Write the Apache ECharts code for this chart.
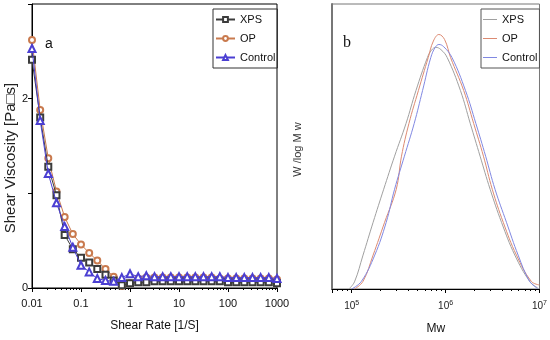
<!DOCTYPE html>
<html>
<head>
<meta charset="utf-8">
<script src="https://cdn.jsdelivr.net/npm/echarts@6/dist/echarts.min.js"></script>
<style>html,body{margin:0;padding:0;background:#fff;}#c{width:550px;height:340px;}</style>
</head>
<body>
<div id="c"></div>
<script>
// ---- Panel a: shear viscosity vs shear rate ----
const shearRate = [0.01,0.0147,0.0215,0.0316,0.0464,0.0681,0.1,0.147,0.215,0.316,0.464,0.681,1,1.47,2.15,3.16,4.64,6.81,10,14.7,21.5,31.6,46.4,68.1,100,147,215,316,464,681,1000];
const viscXPS     = [2.41,1.80,1.28,0.98,0.56,0.41,0.32,0.27,0.20,0.14,0.08,0.03,0.05,0.06,0.06,0.07,0.07,0.07,0.07,0.07,0.07,0.07,0.07,0.07,0.06,0.06,0.06,0.06,0.06,0.06,0.05];
const viscOP      = [2.62,1.88,1.37,1.02,0.75,0.57,0.46,0.37,0.29,0.20,0.12,0.02,0.05,0.10,0.11,0.11,0.11,0.11,0.11,0.11,0.11,0.11,0.11,0.10,0.10,0.10,0.10,0.10,0.10,0.10,0.09];
const viscControl = [2.53,1.77,1.21,0.90,0.65,0.43,0.24,0.17,0.10,0.08,0.07,0.11,0.15,0.12,0.13,0.12,0.12,0.12,0.12,0.12,0.12,0.12,0.12,0.12,0.11,0.11,0.11,0.11,0.11,0.11,0.10];
const viscTicks = [0, 2];

// ---- Panel b: molecular weight distribution ----
const mwXPS = [9.33e4,1.07e5,1.32e5,1.69e5,2.19e5,2.86e5,3.79e5,4.83e5,6.40e5,7.08e5,7.85e5,8.91e5,1.04e6,1.44e6,1.83e6,2.33e6,2.98e6,3.94e6,5.46e6,7.85e6,9.55e6];
const wXPS  = [0,0.025,0.119,0.234,0.350,0.466,0.581,0.696,0.812,0.838,0.848,0.840,0.812,0.696,0.581,0.466,0.350,0.234,0.119,0.027,0.004];
const mwOP  = [1.07e5,1.32e5,1.69e5,2.24e5,2.98e5,3.39e5,4.07e5,5.13e5,6.53e5,7.41e5,8.49e5,9.77e5,1.13e6,1.56e6,1.99e6,2.53e6,3.14e6,4.11e6,5.68e6,8.17e6,1e7];
const wOP   = [0,0.027,0.119,0.234,0.350,0.466,0.581,0.696,0.812,0.870,0.893,0.875,0.812,0.696,0.581,0.466,0.350,0.234,0.119,0.027,0.014];
const mwControl = [1.00e5,1.27e5,1.76e5,2.33e5,2.86e5,3.64e5,4.63e5,5.68e5,6.95e5,7.76e5,8.49e5,9.55e5,1.17e6,1.63e6,2.10e6,2.67e6,3.36e6,4.45e6,5.92e6,7.85e6,9.55e6];
const wControl  = [0,0.027,0.119,0.234,0.350,0.466,0.581,0.696,0.812,0.848,0.858,0.850,0.812,0.696,0.581,0.466,0.350,0.234,0.119,0.027,0.002];

const names = ['XPS','OP','Control'];

const SANS = "'Liberation Sans',Arial,sans-serif";
const pair = (xs, ys) => xs.map((x, i) => [x, ys[i]]);

const colA = {XPS:'#3c3c3c', OP:'#c97a4e', Control:'#4b3fd2'};
const colB = {XPS:'#a0a0a0', OP:'#dc8a72', Control:'#8088e2'};

const chart = echarts.init(document.getElementById('c'), null, {renderer:'canvas'});
const option = {
  animation: false,
  backgroundColor: '#fff',
  grid: [
    {left: 32, top: 4, width: 245, height: 284, show: true, borderColor: '#000', borderWidth: 1, backgroundColor: 'transparent'},
    {left: 332, top: 4, width: 209, height: 289, show: true, borderColor: '#777', borderWidth: 1, backgroundColor: 'transparent'}
  ],
  xAxis: [
    {type: 'log', gridIndex: 0, min: 0.01, max: 1000, logBase: 10,
     axisLine: {show: true, lineStyle: {color: '#000', width: 1}},
     axisTick: {show: true, length: 4, lineStyle: {color: '#000'}},
     minorTick: {show: true, splitNumber: 9, length: 2, lineStyle: {color: '#000'}},
     splitLine: {show: false},
     axisLabel: {fontFamily: SANS, fontSize: 11, color: '#111', margin: 10,
       formatter: v => String(+Number(v).toPrecision(6))},
     name: 'Shear Rate [1/S]', nameLocation: 'middle', nameGap: 32,
     nameTextStyle: {fontFamily: SANS, fontSize: 12, color: '#111'}},
    {type: 'log', gridIndex: 1, min: 61660, max: 1e7, logBase: 10,
     axisLine: {show: true, lineStyle: {color: '#000', width: 1}},
     axisTick: {show: true, length: 4, lineStyle: {color: '#000'}},
     minorTick: {show: true, splitNumber: 9, length: 2, lineStyle: {color: '#000'}},
     splitLine: {show: false},
     axisLabel: {margin: 11, color: '#222',
       formatter: v => {
         const e = Math.log10(v);
         if (Math.abs(e - Math.round(e)) > 1e-6) return '';
         return '{b|10}{s|' + Math.round(e) + '}';
       },
       rich: {b: {fontFamily: SANS, fontSize: 10, color: '#222'},
              s: {fontFamily: SANS, fontSize: 7, color: '#222', verticalAlign: 'top', padding: [0,0,6,0]}}},
     name: 'Mw', nameLocation: 'middle', nameGap: 34,
     nameTextStyle: {fontFamily: SANS, fontSize: 12, color: '#111'}}
  ],
  yAxis: [
    {type: 'value', gridIndex: 0, min: 0, max: 3, interval: 1,
     axisLine: {show: true, lineStyle: {color: '#000'}},
     axisTick: {show: true, length: 4, lineStyle: {color: '#000'}},
     splitLine: {show: false},
     axisLabel: {fontFamily: SANS, fontSize: 11, color: '#111', margin: 4,
       formatter: v => viscTicks.indexOf(v) >= 0 ? String(v) : ''},
     name: 'Shear Viscosity [Pa\u25A1s]', nameLocation: 'middle', nameGap: 13,
     nameTextStyle: {fontFamily: SANS, fontSize: 15, color: '#222', padding: [0, 24, 0, 0]}},
    {type: 'value', gridIndex: 1, min: 0, max: 1,
     axisLine: {show: true, lineStyle: {color: '#777', width: 2}},
     axisTick: {show: false}, axisLabel: {show: false}, splitLine: {show: false},
     name: 'W /log M w', nameLocation: 'middle', nameGap: 29,
     nameTextStyle: {fontFamily: SANS, fontSize: 11, color: '#333', padding: [0, 6, 0, 0]}}
  ],
  legend: [
    {left: 213, top: 9, orient: 'vertical', data: names,
     borderColor: '#333', borderWidth: 1, padding: [4, 2, 4, 2],
     itemWidth: 19, itemHeight: 6, itemGap: 6,
     textStyle: {fontFamily: SANS, fontSize: 11, color: '#111', lineHeight: 13}},
    {left: 481, top: 9, orient: 'vertical', data: names.map(n => n + '-b'),
     formatter: n => n.replace('-b', ''),
     icon: 'rect',
     borderColor: '#555', borderWidth: 1, padding: [4, 2, 4, 2],
     itemWidth: 14, itemHeight: 1, itemGap: 6,
     textStyle: {fontFamily: SANS, fontSize: 11, color: '#111', lineHeight: 13}}
  ],
  graphic: [
    {type: 'text', left: 45, top: 37, style: {text: 'a', fontFamily: SANS, fontSize: 14, fill: '#111'}},
    {type: 'text', left: 343, top: 35, style: {text: 'b', fontFamily: "'Liberation Serif','Times New Roman',serif", fontSize: 16, fill: '#111'}}
  ],
  series: [
    {name: 'XPS', type: 'line', xAxisIndex: 0, yAxisIndex: 0, z: 3,
     data: pair(shearRate, viscXPS), symbol: 'emptyRect', symbolSize: 6,
     lineStyle: {color: colA.XPS, width: 1}, itemStyle: {color: colA.XPS, borderWidth: 1}},
    {name: 'OP', type: 'line', xAxisIndex: 0, yAxisIndex: 0, z: 2,
     data: pair(shearRate, viscOP), symbol: 'emptyCircle', symbolSize: 6,
     lineStyle: {color: colA.OP, width: 1}, itemStyle: {color: colA.OP, borderWidth: 1}},
    {name: 'Control', type: 'line', xAxisIndex: 0, yAxisIndex: 0, z: 4,
     data: pair(shearRate, viscControl), symbol: 'emptyTriangle', symbolSize: 7,
     lineStyle: {color: colA.Control, width: 1}, itemStyle: {color: colA.Control, borderWidth: 1}},
    {name: 'XPS-b', type: 'line', xAxisIndex: 1, yAxisIndex: 1, smooth: 0.4,
     data: pair(mwXPS, wXPS), symbol: 'none', lineStyle: {color: colB.XPS, width: 1}, itemStyle: {color: colB.XPS}},
    {name: 'OP-b', type: 'line', xAxisIndex: 1, yAxisIndex: 1, smooth: 0.4,
     data: pair(mwOP, wOP), symbol: 'none', lineStyle: {color: colB.OP, width: 1}, itemStyle: {color: colB.OP}},
    {name: 'Control-b', type: 'line', xAxisIndex: 1, yAxisIndex: 1, smooth: 0.4,
     data: pair(mwControl, wControl), symbol: 'none', lineStyle: {color: colB.Control, width: 1}, itemStyle: {color: colB.Control}}
  ]
};
chart.setOption(option);
</script>
</body>
</html>
